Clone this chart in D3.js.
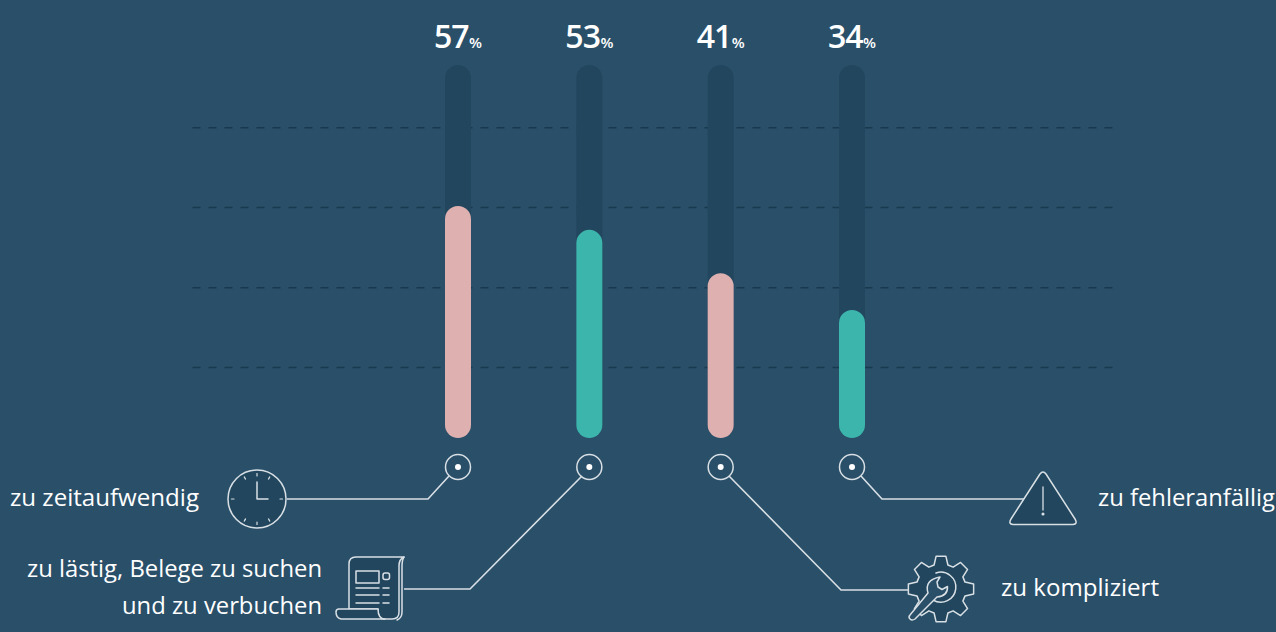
<!DOCTYPE html>
<html>
<head>
<meta charset="utf-8">
<script src="https://cdnjs.cloudflare.com/ajax/libs/d3/7.8.5/d3.min.js"></script>
<style>
html, body { margin: 0; padding: 0; background: #2a4f69; overflow: hidden; }
text { font-family: "Open Sans", sans-serif; fill: #fff; }
</style>
</head>
<body>
<svg id="chart" width="1276" height="632"></svg>
<script>
var categories = ['zu zeitaufwendig', 'zu lästig', 'zu kompliziert', 'zu fehleranfällig'],
    percentLabels = [57, 53, 41, 34],
    // fill level of each track (the drawn heights are not quite linear)
    fillLevels = [62.2, 55.8, 44.2, 34.3],
    gridLevels = [18.9, 40.3, 61.8, 83.2],
    fillColors = ['#deb0b0', '#3cb5ad', '#deb0b0', '#3cb5ad'];

var BG = '#2a4f69', TRACK = '#22465d', LINE = '#d8e0e5';

var svg = d3.select('#chart'),
    y = d3.scaleLinear().domain([0, 100]).range([438, 65]),
    x = d3.scalePoint().domain(categories).range([458, 852]),
    barW = 26;

svg.append('rect').attr('width', 1276).attr('height', 632).attr('fill', BG);

// dashed guide lines
svg.append('g').selectAll('line')
    .data(gridLevels)
    .enter().append('line')
        .attr('x1', 192.5).attr('x2', 1116)
        .attr('y1', function(d) { return y(d); })
        .attr('y2', function(d) { return y(d); })
        .attr('stroke', '#183a4e')
        .attr('stroke-width', 1.5)
        .attr('stroke-dasharray', '8 8');

var bars = svg.append('g').selectAll('g')
    .data(categories)
    .enter().append('g');

bars.append('rect')
    .attr('x', function(d) { return x(d) - barW / 2; })
    .attr('y', y(100))
    .attr('width', barW)
    .attr('height', y(0) - y(100))
    .attr('rx', 13)
    .attr('fill', TRACK);

bars.append('rect')
    .attr('x', function(d) { return x(d) - barW / 2; })
    .attr('y', function(d, i) { return y(fillLevels[i]); })
    .attr('width', barW)
    .attr('height', function(d, i) { return y(0) - y(fillLevels[i]); })
    .attr('rx', 13)
    .attr('fill', function(d, i) { return fillColors[i]; });

// value labels
var labels = bars.append('text')
    .attr('x', function(d) { return x(d) - 24; })
    .attr('y', 47.5);
labels.append('tspan')
    .attr('font-size', 32)
    .attr('font-weight', 600)
    .attr('letter-spacing', -1)
    .text(function(d, i) { return percentLabels[i]; });
labels.append('tspan')
    .attr('font-size', 15)
    .attr('font-weight', 600)
    .attr('dx', 0.5)
    .text('%');

// target circles under the bars
bars.append('circle')
    .attr('cx', function(d) { return x(d); })
    .attr('cy', 467)
    .attr('r', 12.5)
    .attr('fill', 'none')
    .attr('stroke', LINE)
    .attr('stroke-width', 1.5);
bars.append('circle')
    .attr('cx', function(d) { return x(d); })
    .attr('cy', 467)
    .attr('r', 3)
    .attr('fill', '#fff');

// leader lines
var leaders = [
    [[449, 476], [428, 499], [287, 499]],
    [[582, 476], [470, 589], [404, 589]],
    [[729, 476], [841, 590], [908, 590]],
    [[861, 476], [882, 499], [1026, 499]]
];
svg.append('g').selectAll('path')
    .data(leaders)
    .enter().append('path')
        .attr('d', d3.line())
        .attr('fill', 'none')
        .attr('stroke', LINE)
        .attr('stroke-width', 1.6);

var icon = svg.append('g')
    .attr('stroke', LINE)
    .attr('stroke-width', 1.5)
    .attr('stroke-linecap', 'round')
    .attr('stroke-linejoin', 'round')
    .attr('fill', TRACK);

// clock
var clock = icon.append('g').attr('transform', 'translate(257,499)');
clock.append('circle').attr('r', 29);
[0, 1, 3, 5, 6, 7, 9, 11].forEach(function(h) {
    var a = h * Math.PI / 6, r0 = 23, r1 = 25.5;
    clock.append('line')
        .attr('x1', r0 * Math.sin(a)).attr('y1', -r0 * Math.cos(a))
        .attr('x2', r1 * Math.sin(a)).attr('y2', -r1 * Math.cos(a))
        .attr('stroke-width', 1.2);
});
clock.append('path').attr('d', 'M0,-17V0H11').attr('fill', 'none');

// document
var doc = icon.append('g');
doc.append('path').attr('d', 'M349,609V564Q349,557 356,557H404Q399,559 399,566V612Q399,619 392,619H383Q378,619 378,609Z');
doc.append('path').attr('d', 'M336,612Q336,609 339,609H378Q378,619 385,619H341Q336,618 336,612Z');
doc.append('path').attr('d', 'M404,557Q402,560 402,566V612Q402,618 397,620').attr('fill', 'none');
doc.append('rect').attr('x', 356).attr('y', 571).attr('width', 23).attr('height', 12).attr('fill', 'none');
doc.append('rect').attr('x', 383).attr('y', 573).attr('width', 6.5).attr('height', 6.5).attr('rx', 2).attr('fill', 'none');
[588, 595, 603].forEach(function(ly) {
    doc.append('line').attr('x1', 356).attr('x2', 379).attr('y1', ly).attr('y2', ly);
    doc.append('line').attr('x1', 383).attr('x2', 389).attr('y1', ly).attr('y2', ly);
});

// gear with wrench
var gear = icon.append('g').attr('transform', 'translate(941,589)'),
    gearPts = [],
    teeth = 8;
d3.range(teeth).forEach(function(t) {
    var a = t * 2 * Math.PI / teeth - Math.PI / 2;
    [[25, -0.28], [33, -0.15], [33, 0.15], [25, 0.28]].forEach(function(p) {
        gearPts.push([p[0] * Math.cos(a + p[1]), p[0] * Math.sin(a + p[1])]);
    });
});
gear.append('path').attr('d', d3.line().curve(d3.curveLinearClosed)(gearPts));
gear.append('path')
    .attr('d', 'M-5,-16A15,15 0 1 1 -8,11')
    .attr('fill', 'none');
gear.append('path')
    .attr('d', 'M-31,26L-13,4Q-17,-9 -1,-12L-4,-7L-3,-2L1,0.5L6.5,-2.5Q7,7 -4,8L-26,30Q-29,32 -31,30Q-33,28 -31,26Z')
    .attr('fill', BG);

// warning triangle
var warn = icon.append('g');
warn.append('path').attr('d', 'M1040,474Q1043,470 1046,474L1075,519Q1078,524 1073,524.5H1013Q1008,524 1011,519Z');
warn.append('path').attr('d', 'M1043,487V510').attr('fill', 'none').attr('stroke-width', 1.3);
warn.append('circle').attr('cx', 1043).attr('cy', 514).attr('r', 0.8).attr('fill', '#fff');

// category texts
var captions = [
    {t: 'zu zeitaufwendig', x: 10, y: 505.5, a: 'start', len: 189},
    {t: 'zu lästig, Belege zu suchen', x: 322, y: 577, a: 'end', len: 295},
    {t: 'und zu verbuchen', x: 322, y: 614, a: 'end', len: 200},
    {t: 'zu kompliziert', x: 1001, y: 596, a: 'start', len: 158},
    {t: 'zu fehleranfällig', x: 1098, y: 505.5, a: 'start', len: 177}
];
svg.append('g').selectAll('text')
    .data(captions)
    .enter().append('text')
        .attr('x', function(d) { return d.x; })
        .attr('y', function(d) { return d.y; })
        .attr('text-anchor', function(d) { return d.a; })
        .attr('font-size', 24)
        .attr('textLength', function(d) { return d.len; })
        .attr('lengthAdjust', 'spacingAndGlyphs')
        .text(function(d) { return d.t; });
</script>
</body>
</html>
